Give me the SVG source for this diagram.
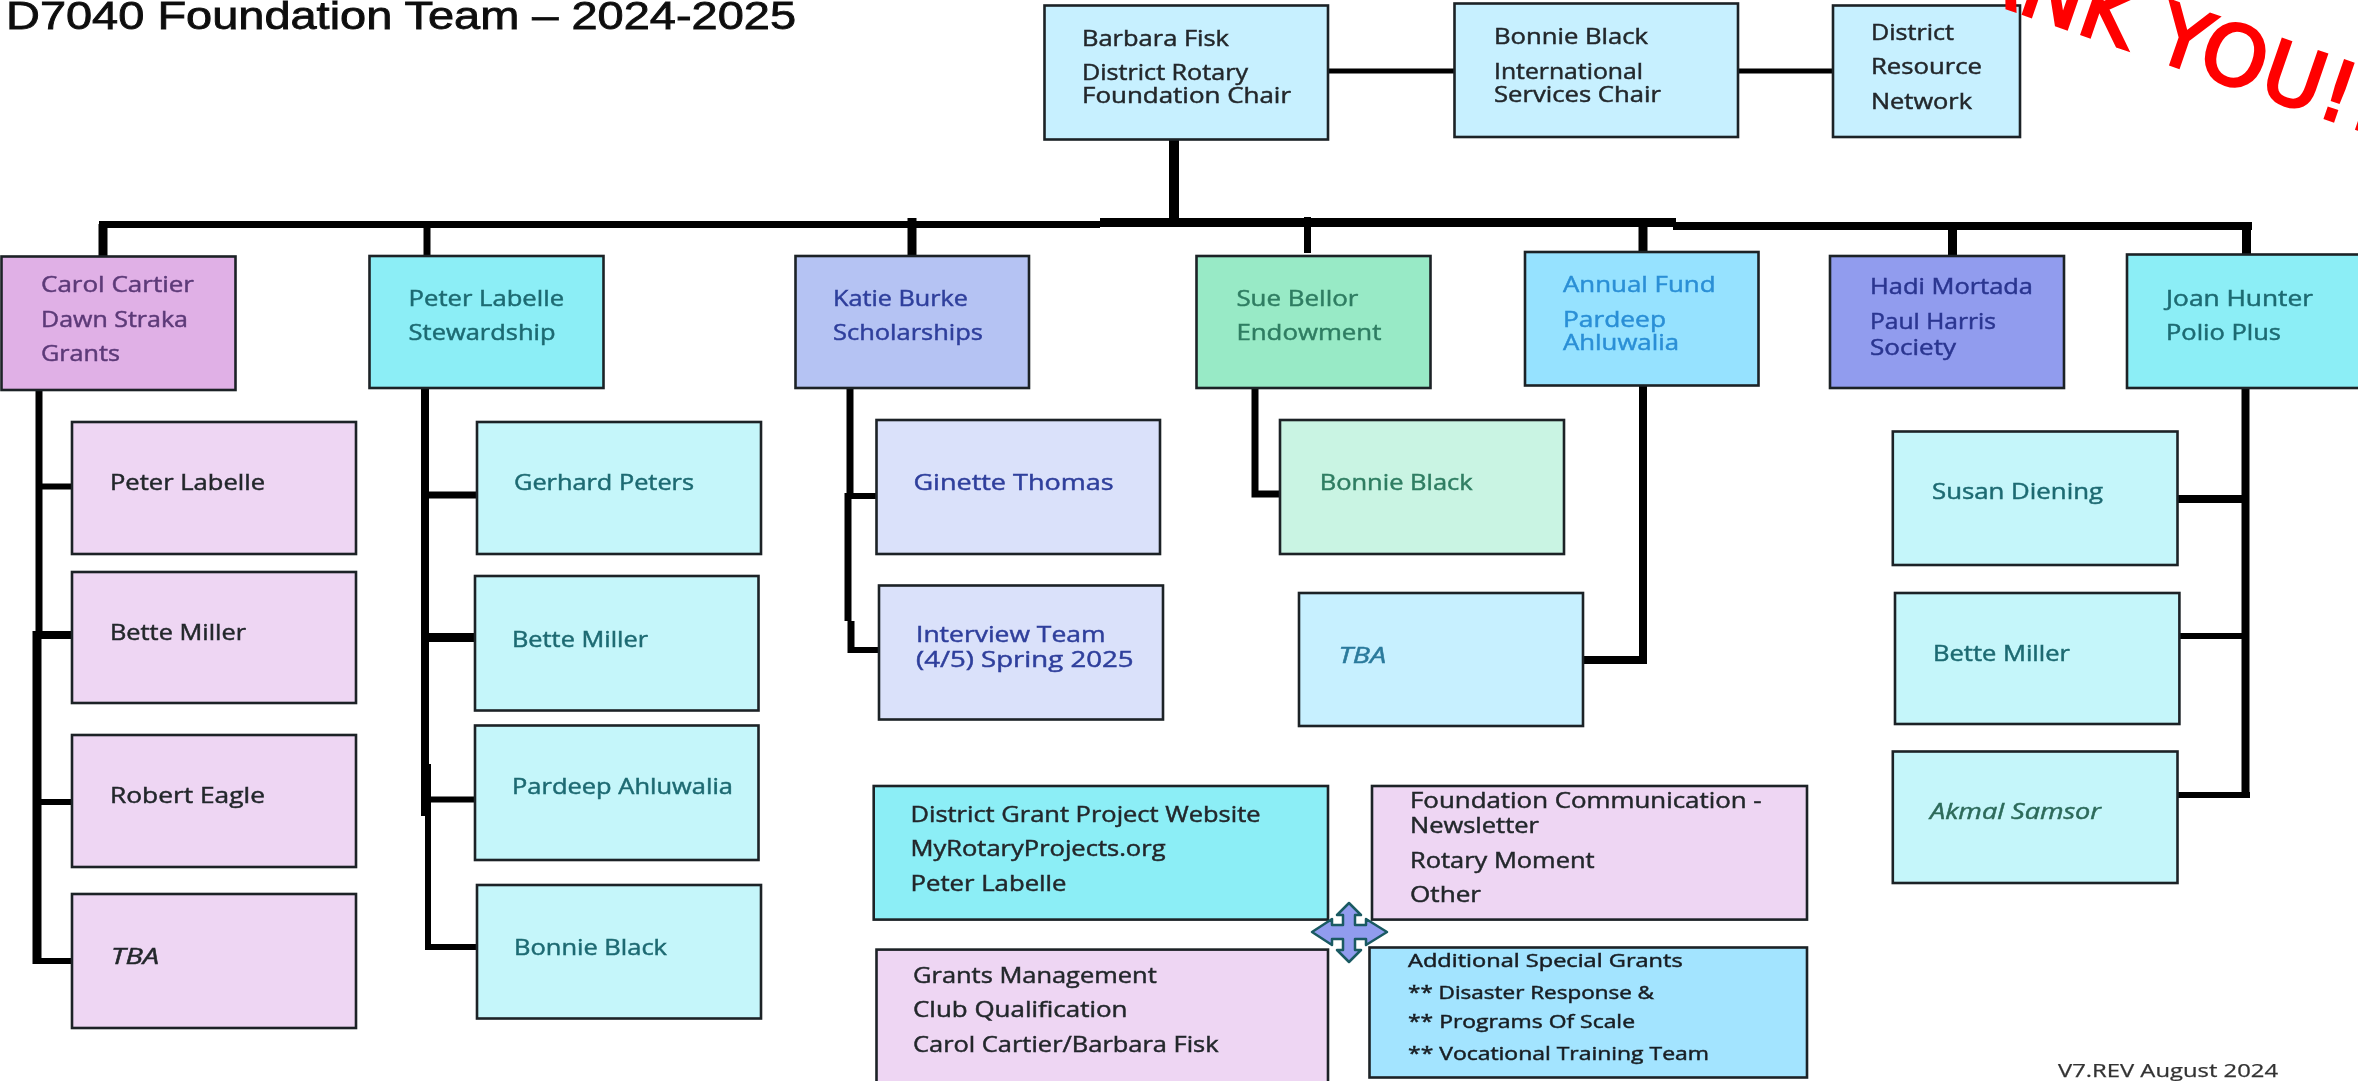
<svg xmlns="http://www.w3.org/2000/svg" width="2358" height="1081" viewBox="0 0 2358 1081">
<defs><filter id="soft" x="-5%" y="-30%" width="110%" height="160%"><feGaussianBlur stdDeviation="0.45"/></filter></defs>
<style>
rect{stroke:#1c2226;stroke-width:2.6}
text{font-family:"Open Sans","DejaVu Sans",sans-serif;font-size:21px;fill:#23282c;stroke:#23282c;stroke-width:.45;filter:url(#soft)}
.title{font-family:"Liberation Sans",Arial,sans-serif;font-size:38px;fill:#111;stroke:#111;stroke-width:.8}
.it{font-style:italic}
.sm{font-size:19px;fill:#1a1f24;stroke:#1a1f24;stroke-width:.5}
.ver{font-size:18px;fill:#333;stroke:#333;stroke-width:.25}
.thx{font-family:"DejaVu Sans",sans-serif;font-size:83px;fill:#f00;stroke:#f00;stroke-width:3;filter:none}
.c-gr{fill:#5c3a78;stroke:#5c3a78}.c-te{fill:#1d6a72;stroke:#1d6a72}.c-in{fill:#2f3f9c;stroke:#2f3f9c}.c-em{fill:#2f7d62;stroke:#2f7d62}.c-bl{fill:#2a8fd6;stroke:#2a8fd6}.c-na{fill:#2a3590;stroke:#2a3590}.c-ak{fill:#2d6a5a;stroke:#2d6a5a}.c-tb{fill:#2a7a9c;stroke:#2a7a9c}
.p1{fill:#e0b0e6}.p2{fill:#eed6f3}.a1{fill:#8ceef6}.a2{fill:#c5f6fa}.v1{fill:#b5c3f3}.v2{fill:#dae1fa}.g1{fill:#98eac6}.g2{fill:#c9f4e3}.b1{fill:#96e2ff}.b2{fill:#c7f0ff}.b3{fill:#a3e4ff}.n1{fill:#919cee}
#connectors path{fill:none;stroke:#000;stroke-linecap:butt}
.w5{stroke-width:5}.w6{stroke-width:6}.w7{stroke-width:7}.w8{stroke-width:8}.w9{stroke-width:9}.w10{stroke-width:10}
</style>

<text id="title" class="title" x="6" y="29" textLength="790" lengthAdjust="spacingAndGlyphs">D7040 Foundation Team – 2024-2025</text>

<g id="connectors">
<path class="w5" d="M1328 71H1455M1738 71H1833"/>
<path class="w10" d="M1174 139V222"/>
<path class="w7" d="M99 224.500H1100"/>
<path class="w9" d="M1100 222.500H1676"/>
<path class="w8" d="M1673 226H2252"/>
<path class="w9" d="M103 224V257"/>
<path class="w7" d="M427 224V259"/>
<path class="w9" d="M912 218V257"/>
<path class="w7" d="M1307.500 217V253"/>
<path class="w9" d="M1643 224V257"/>
<path class="w9" d="M1952.500 224V259"/>
<path class="w9" d="M2246.500 224V255"/>

<path class="w7" d="M39 387V631"/>
<path class="w9" d="M37 631V964"/>
<path class="w6" d="M39 486.500H72M37 802H72M37 961H72"/>
<path class="w8" d="M33 635H72"/>

<path class="w8" d="M425 388V816"/>
<path class="w6" d="M428 764V950"/>
<path class="w7" d="M425 495H477"/>
<path class="w9" d="M425 637.500H475"/>
<path class="w6" d="M425 799.500H475M426 947H477"/>

<path class="w7" d="M850 388V496"/>
<path class="w7" d="M848 493V621"/>
<path class="w7" d="M851 621V653"/>
<path class="w6" d="M845 496H877M848 650H879"/>

<path class="w7" d="M1255 388V494H1281"/>

<path class="w8" d="M1643 385V664"/>
<path class="w8" d="M1583 660H1647"/>

<path class="w8" d="M2245.500 388V798"/>
<path class="w8" d="M2178 499H2246"/>
<path class="w6" d="M2178 636H2246M2176 795H2250"/>
</g>

<g id="barbara"><rect class="b2" x="1044.500" y="5.500" width="283.500" height="134"/><text x="1082" y="46" textLength="147" lengthAdjust="spacingAndGlyphs">Barbara Fisk</text><text x="1082" y="80" textLength="166" lengthAdjust="spacingAndGlyphs">District Rotary</text><text x="1082" y="103" textLength="209" lengthAdjust="spacingAndGlyphs">Foundation Chair</text></g>
<g id="bonnie-top"><rect class="b2" x="1454.500" y="3.500" width="283.500" height="133.500"/><text x="1494" y="44" textLength="154" lengthAdjust="spacingAndGlyphs">Bonnie Black</text><text x="1494" y="78.500" textLength="149" lengthAdjust="spacingAndGlyphs">International</text><text x="1494" y="101.500" textLength="167" lengthAdjust="spacingAndGlyphs">Services Chair</text></g>
<g id="district"><rect class="b2" x="1833" y="5.500" width="187" height="131.500"/><text x="1871" y="39.600" textLength="83" lengthAdjust="spacingAndGlyphs">District</text><text x="1871" y="74" textLength="111" lengthAdjust="spacingAndGlyphs">Resource</text><text x="1871" y="108.500" textLength="101" lengthAdjust="spacingAndGlyphs">Network</text></g>

<g id="carol"><rect class="p1" x="1.500" y="256.500" width="234" height="133.500"/><text class="c-gr" x="41" y="292" textLength="153" lengthAdjust="spacingAndGlyphs">Carol Cartier</text><text class="c-gr" x="41" y="326.500" textLength="147" lengthAdjust="spacingAndGlyphs">Dawn Straka</text><text class="c-gr" x="41" y="361" textLength="79" lengthAdjust="spacingAndGlyphs">Grants</text></g>
<g id="peter"><rect class="a1" x="369.500" y="256" width="234" height="132"/><text class="c-te" x="408.600" y="306" textLength="155.500" lengthAdjust="spacingAndGlyphs">Peter Labelle</text><text class="c-te" x="408.600" y="340" textLength="147" lengthAdjust="spacingAndGlyphs">Stewardship</text></g>
<g id="katie"><rect class="v1" x="795.500" y="256" width="233.500" height="132"/><text class="c-in" x="833" y="306" textLength="135" lengthAdjust="spacingAndGlyphs">Katie Burke</text><text class="c-in" x="833" y="340" textLength="150" lengthAdjust="spacingAndGlyphs">Scholarships</text></g>
<g id="sue"><rect class="g1" x="1196.500" y="256" width="234" height="132"/><text class="c-em" x="1236.400" y="306" textLength="122" lengthAdjust="spacingAndGlyphs">Sue Bellor</text><text class="c-em" x="1236.400" y="340" textLength="145" lengthAdjust="spacingAndGlyphs">Endowment</text></g>
<g id="annual"><rect class="b1" x="1525" y="252" width="233.500" height="133.500"/><text class="c-bl" x="1563" y="292" textLength="152.500" lengthAdjust="spacingAndGlyphs">Annual Fund</text><text class="c-bl" x="1563" y="326.500" textLength="103" lengthAdjust="spacingAndGlyphs">Pardeep</text><text class="c-bl" x="1563" y="349.500" textLength="116" lengthAdjust="spacingAndGlyphs">Ahluwalia</text></g>
<g id="hadi"><rect class="n1" x="1830" y="256" width="234" height="132"/><text class="c-na" x="1870" y="294.400" textLength="163" lengthAdjust="spacingAndGlyphs">Hadi Mortada</text><text class="c-na" x="1870" y="329" textLength="126" lengthAdjust="spacingAndGlyphs">Paul Harris</text><text class="c-na" x="1870" y="354.700" textLength="86" lengthAdjust="spacingAndGlyphs">Society</text></g>
<g id="joan"><rect class="a1" x="2127" y="254.500" width="234" height="133.500"/><text class="c-te" x="2166" y="306" textLength="147" lengthAdjust="spacingAndGlyphs">Joan Hunter</text><text class="c-te" x="2166" y="340" textLength="115" lengthAdjust="spacingAndGlyphs">Polio Plus</text></g>

<g id="grants-1"><rect class="p2" x="72" y="422" width="284" height="132"/><text x="110" y="490" textLength="155" lengthAdjust="spacingAndGlyphs">Peter Labelle</text></g>
<g id="grants-2"><rect class="p2" x="72" y="572" width="284" height="131"/><text x="110" y="640" textLength="136" lengthAdjust="spacingAndGlyphs">Bette Miller</text></g>
<g id="grants-3"><rect class="p2" x="72" y="735" width="284" height="132"/><text x="110" y="803" textLength="155" lengthAdjust="spacingAndGlyphs">Robert Eagle</text></g>
<g id="grants-4"><rect class="p2" x="72" y="894" width="284" height="134"/><text class="it" x="111" y="964.400" textLength="48" lengthAdjust="spacingAndGlyphs">TBA</text></g>

<g id="stew-1"><rect class="a2" x="477" y="422" width="284" height="132"/><text class="c-te" x="514" y="490" textLength="180" lengthAdjust="spacingAndGlyphs">Gerhard Peters</text></g>
<g id="stew-2"><rect class="a2" x="475" y="576" width="283.500" height="134.500"/><text class="c-te" x="512" y="647" textLength="136" lengthAdjust="spacingAndGlyphs">Bette Miller</text></g>
<g id="stew-3"><rect class="a2" x="475" y="725.500" width="283.500" height="134.500"/><text class="c-te" x="512" y="794" textLength="221" lengthAdjust="spacingAndGlyphs">Pardeep Ahluwalia</text></g>
<g id="stew-4"><rect class="a2" x="477" y="885" width="284" height="133.500"/><text class="c-te" x="514" y="955" textLength="153" lengthAdjust="spacingAndGlyphs">Bonnie Black</text></g>

<g id="sch-1"><rect class="v2" x="876.500" y="420" width="283.500" height="134"/><text class="c-in" x="913.500" y="490" textLength="200" lengthAdjust="spacingAndGlyphs">Ginette Thomas</text></g>
<g id="sch-2"><rect class="v2" x="879" y="585.500" width="284" height="134"/><text class="c-in" x="916" y="642" textLength="189.500" lengthAdjust="spacingAndGlyphs">Interview Team</text><text class="c-in" x="916" y="667" textLength="217.500" lengthAdjust="spacingAndGlyphs">(4/5) Spring 2025</text></g>

<g id="end-1"><rect class="g2" x="1280" y="420" width="284" height="134"/><text class="c-em" x="1319.700" y="490" textLength="153" lengthAdjust="spacingAndGlyphs">Bonnie Black</text></g>
<g id="fund-1"><rect class="b2" x="1299" y="593" width="284" height="133"/><text class="it c-tb" x="1338.500" y="663" textLength="47.500" lengthAdjust="spacingAndGlyphs">TBA</text></g>

<g id="polio-1"><rect class="a2" x="1892.800" y="431.500" width="284.700" height="133.500"/><text class="c-te" x="1932" y="499" textLength="171" lengthAdjust="spacingAndGlyphs">Susan Diening</text></g>
<g id="polio-2"><rect class="a2" x="1895" y="593" width="284.400" height="131"/><text class="c-te" x="1933" y="661" textLength="137" lengthAdjust="spacingAndGlyphs">Bette Miller</text></g>
<g id="polio-3"><rect class="a2" x="1892.800" y="751.500" width="284.700" height="131.500"/><text class="it c-ak" x="1930" y="819" textLength="171" lengthAdjust="spacingAndGlyphs">Akmal Samsor</text></g>

<g id="website"><rect class="a1" x="873.700" y="786" width="454.300" height="133.600"/><text x="910.500" y="821.600" textLength="350" lengthAdjust="spacingAndGlyphs">District Grant Project Website</text><text x="910.500" y="856" textLength="255" lengthAdjust="spacingAndGlyphs">MyRotaryProjects.org</text><text x="910.500" y="890.600" textLength="156" lengthAdjust="spacingAndGlyphs">Peter Labelle</text></g>
<g id="grants-mgmt"><rect class="p2" x="876.500" y="949.600" width="451.500" height="140"/><text x="913" y="982.700" textLength="243.700" lengthAdjust="spacingAndGlyphs">Grants Management</text><text x="913" y="1017" textLength="214.500" lengthAdjust="spacingAndGlyphs">Club Qualification</text><text x="913" y="1051.700" textLength="305.600" lengthAdjust="spacingAndGlyphs">Carol Cartier/Barbara Fisk</text></g>
<g id="communication"><rect class="p2" x="1372" y="786" width="435" height="133.600"/><text x="1410" y="808" textLength="351.700" lengthAdjust="spacingAndGlyphs">Foundation Communication -</text><text x="1410" y="833" textLength="129" lengthAdjust="spacingAndGlyphs">Newsletter</text><text x="1410" y="868" textLength="184.600" lengthAdjust="spacingAndGlyphs">Rotary Moment</text><text x="1410" y="902" textLength="71" lengthAdjust="spacingAndGlyphs">Other</text></g>
<g id="special"><rect class="b3" x="1369.500" y="947.500" width="437.500" height="130"/><text class="sm" x="1408" y="967" textLength="274.700" lengthAdjust="spacingAndGlyphs">Additional Special Grants</text><text class="sm" x="1408" y="999" textLength="246" lengthAdjust="spacingAndGlyphs">** Disaster Response &amp;</text><text class="sm" x="1408" y="1028" textLength="227" lengthAdjust="spacingAndGlyphs">** Programs Of Scale</text><text class="sm" x="1408" y="1060" textLength="301" lengthAdjust="spacingAndGlyphs">** Vocational Training Team</text></g>

<g id="cross-arrow"><path d="M1349 903L1361 915H1355V925H1366V919L1387 932L1366 945V939H1355V950H1361L1349 962L1337 950H1343V939H1332V945L1312 932L1332 919V925H1343V915H1337Z" fill="#919cee" stroke="#1a5a62" stroke-width="2.500" stroke-linejoin="round"/></g>

<text id="version" class="ver" x="2058" y="1077" textLength="220" lengthAdjust="spacingAndGlyphs">V7.REV August 2024</text>
<text id="thanks" class="thx" transform="translate(1855 -44) rotate(19)">THANK YOU!!</text>
</svg>
